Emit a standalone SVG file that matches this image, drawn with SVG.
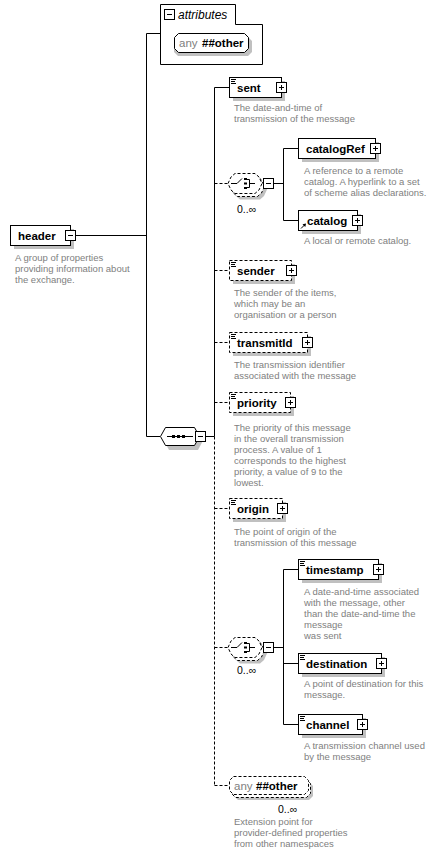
<svg xmlns="http://www.w3.org/2000/svg" xmlns:xlink="http://www.w3.org/1999/xlink" width="433" height="857" viewBox="0 0 433 857">
<style>
.box{fill:#fff;stroke:#000;stroke-width:1}
.opt{stroke-dasharray:3,2}
.sh{fill:#c0c0c0;stroke:none}
.ln{fill:none;stroke:#000;stroke-width:1}
.dl{stroke-dasharray:3,2}
.nm{font-family:"Liberation Sans",Arial,sans-serif;font-weight:bold;font-size:11.5px;fill:#000}
.ds{font-family:"Liberation Sans",Arial,sans-serif;font-size:9.5px;fill:#808080}
.oc{font-family:"Liberation Sans",Arial,sans-serif;font-size:10.5px;fill:#000}
.an{font-family:"Liberation Sans",Arial,sans-serif;font-size:11.5px;fill:#808080}
.at{font-family:"Liberation Sans",Arial,sans-serif;font-style:italic;font-size:12px;fill:#000}
</style>
<defs>
<g id="plus"><rect x="0.5" y="0.5" width="10" height="10" fill="#fff" stroke="#000"/><path d="M3,5.5H8M5.5,3V8" stroke="#000" fill="none"/></g>
<g id="minus"><rect x="0.5" y="0.5" width="10" height="10" fill="#fff" stroke="#000"/><path d="M3,5.5H8" stroke="#000" fill="none"/></g>
<path id="ti" d="M2,2.5h5M2,4.5h4M2,6.5h5" fill="none" stroke="#000"/>
<path id="chs" d="M0,10.5 L3,4 L7,0.5 L27,0.5 L31,4 L34,10.5 L31,17 L27,20.5 L7,20.5 L3,17 Z"/>
</defs>

<g id="connectors">
<path class="ln" d="M75,235.5H146.5M146.5,33.5V436.5M146.5,33.5H160M146.5,436.5H160"/>
<path class="ln" d="M205,436.5H214.5M214.5,87.5V436.5M214.5,87.5H229"/>
<path class="ln dl" d="M214.5,436.5V785.5M214.5,183.5H228M214.5,270.5H229M214.5,342.5H229M214.5,402.5H229M214.5,508.5H229M214.5,647.5H228M214.5,785.5H229"/>
<path class="ln" d="M273,183.5H283.5M283.5,148.5V220.5M283.5,148.5H298M283.5,220.5H298"/>
<path class="ln" d="M273,647.5H283.5M283.5,569.5V724.5M283.5,569.5H298M283.5,663.5H298M283.5,724.5H298"/>
</g>

<g id="attributes">
<path class="box" d="M160.5,4.5H235.5V24.5H262.5V64.5H160.5Z"/>
<use xlink:href="#minus" x="164" y="9"/>
<text class="at" x="178" y="19">attributes</text>
<g id="anyAttr">
<path class="sh" d="M178,37 H248 L252,41 V52 L248,56 H178 L174,52 V41 Z"/>
<path class="box" d="M178.5,33.5 H244.5 L248.5,37.5 V48.5 L244.5,52.5 H178.5 L174.5,48.5 V37.5 Z"/>
<text class="an" x="179" y="47">any</text>
<text class="nm" x="202" y="47">##other</text>
</g>
</g>

<g id="header" transform="translate(10,225)">
<rect class="sh" x="4" y="4" width="60" height="20"/>
<rect class="box" x="0.5" y="0.5" width="60" height="20"/>
<text class="nm" x="8" y="15">header</text>
<use xlink:href="#minus" x="55" y="5"/>
<text class="ds" x="5" y="36">A group of properties<tspan x="5" y="47">providing information about</tspan><tspan x="5" y="58">the exchange.</tspan></text>
</g>

<g id="sequence">
<path class="sh" d="M164,440.5 L169,431 L198,431 L203,440.5 L198,450 L169,450 Z"/>
<path class="box" d="M160.5,436.5 L165.5,427.5 L194.5,427.5 L199.5,436.5 L194.5,445.5 L165.5,445.5 Z"/>
<path class="ln" d="M167,436.5H193"/>
<rect x="172" y="435" width="3" height="3"/><rect x="177" y="435" width="3" height="3"/><rect x="182" y="435" width="3" height="3"/>
<use xlink:href="#minus" x="195" y="431"/>
</g>

<g id="sent" transform="translate(229,77)">
<rect class="sh" x="4" y="4" width="52" height="20"/>
<rect class="box" x="0.5" y="0.5" width="52" height="20"/>
<use xlink:href="#ti"/>
<text class="nm" x="8" y="15">sent</text>
<use xlink:href="#plus" x="47" y="5"/>
<text class="ds" x="5" y="34">The date-and-time of<tspan x="5" y="45">transmission of the message</tspan></text>
</g>

<g id="choice1" transform="translate(228,173)">
<use xlink:href="#chs" class="sh" x="5" y="6"/>
<use xlink:href="#chs" class="box opt" x="2.5" y="3"/>
<use xlink:href="#chs" class="box opt"/>
<path class="ln" d="M3,10.5H9L14,5.5"/>
<rect x="16" y="5" width="3" height="2"/><rect x="16" y="9.5" width="3" height="2"/><rect x="16" y="14" width="3" height="2"/>
<path class="ln" d="M19,6.5H21.5V14.5H19M21.5,10.5H27"/>
<use xlink:href="#minus" x="35" y="5"/>
<text class="oc" x="9" y="40">0..∞</text>
</g>

<g id="catalogRef" transform="translate(298,138)">
<rect class="sh" x="4" y="4" width="77" height="20"/>
<rect class="box" x="0.5" y="0.5" width="77" height="20"/>
<text class="nm" x="8" y="15">catalogRef</text>
<use xlink:href="#plus" x="72" y="5"/>
<text class="ds" x="6" y="36">A reference to a remote<tspan x="6" y="47">catalog. A hyperlink to a set</tspan><tspan x="6" y="58">of scheme alias declarations.</tspan></text>
</g>

<g id="catalog" transform="translate(298,210)">
<rect class="sh" x="4" y="4" width="59" height="20"/>
<rect class="box" x="0.5" y="0.5" width="59" height="20"/>
<path d="M3,18.5L7,14.5" stroke="#000" fill="none"/><path d="M8,13.5L4.5,14.2L7.3,17Z" fill="#000"/>
<text class="nm" x="9" y="15">catalog</text>
<use xlink:href="#plus" x="54" y="5"/>
<text class="ds" x="6" y="34">A local or remote catalog.</text>
</g>

<g id="sender" transform="translate(229,260)">
<rect class="sh" x="4" y="4" width="62" height="20"/>
<rect class="box opt" x="0.5" y="0.5" width="62" height="20"/>
<use xlink:href="#ti"/>
<text class="nm" x="8" y="15">sender</text>
<use xlink:href="#plus" x="57" y="5"/>
<text class="ds" x="5" y="36">The sender of the items,<tspan x="5" y="47">which may be an</tspan><tspan x="5" y="58">organisation or a person</tspan></text>
</g>

<g id="transmitId" transform="translate(229,332)">
<rect class="sh" x="4" y="4" width="78" height="20"/>
<rect class="box opt" x="0.5" y="0.5" width="78" height="20"/>
<use xlink:href="#ti"/>
<text class="nm" x="8" y="15">transmitId</text>
<use xlink:href="#plus" x="73" y="5"/>
<text class="ds" x="5" y="36">The transmission identifier<tspan x="5" y="47">associated with the message</tspan></text>
</g>

<g id="priority" transform="translate(229,392)">
<rect class="sh" x="4" y="4" width="61" height="20"/>
<rect class="box opt" x="0.5" y="0.5" width="61" height="20"/>
<use xlink:href="#ti"/>
<text class="nm" x="8" y="15">priority</text>
<use xlink:href="#plus" x="56" y="5"/>
<text class="ds" x="5" y="39">The priority of this message<tspan x="5" y="50">in the overall transmission</tspan><tspan x="5" y="61">process. A value of 1</tspan><tspan x="5" y="72">corresponds to the highest</tspan><tspan x="5" y="83">priority, a value of 9 to the</tspan><tspan x="5" y="94">lowest.</tspan></text>
</g>

<g id="origin" transform="translate(229,498)">
<rect class="sh" x="4" y="4" width="53" height="20"/>
<rect class="box opt" x="0.5" y="0.5" width="53" height="20"/>
<use xlink:href="#ti"/>
<text class="nm" x="8" y="15">origin</text>
<use xlink:href="#plus" x="48" y="5"/>
<text class="ds" x="5" y="37">The point of origin of the<tspan x="5" y="48">transmission of this message</tspan></text>
</g>

<g id="choice2" transform="translate(228,637)">
<use xlink:href="#chs" class="sh" x="5" y="6"/>
<use xlink:href="#chs" class="box opt" x="2.5" y="3"/>
<use xlink:href="#chs" class="box opt"/>
<path class="ln" d="M3,10.5H9L14,5.5"/>
<rect x="16" y="5" width="3" height="2"/><rect x="16" y="9.5" width="3" height="2"/><rect x="16" y="14" width="3" height="2"/>
<path class="ln" d="M19,6.5H21.5V14.5H19M21.5,10.5H27"/>
<use xlink:href="#minus" x="35" y="5"/>
<text class="oc" x="9" y="37">0..∞</text>
</g>

<g id="timestamp" transform="translate(298,559)">
<rect class="sh" x="4" y="4" width="80" height="20"/>
<rect class="box" x="0.5" y="0.5" width="80" height="20"/>
<use xlink:href="#ti"/>
<text class="nm" x="8" y="15">timestamp</text>
<use xlink:href="#plus" x="75" y="5"/>
<text class="ds" x="6" y="36">A date-and-time associated<tspan x="6" y="47">with the message, other</tspan><tspan x="6" y="58">than the date-and-time the</tspan><tspan x="6" y="69">message</tspan><tspan x="6" y="80">was sent</tspan></text>
</g>

<g id="destination" transform="translate(298,653)">
<rect class="sh" x="4" y="4" width="83" height="20"/>
<rect class="box" x="0.5" y="0.5" width="83" height="20"/>
<use xlink:href="#ti"/>
<text class="nm" x="8" y="15">destination</text>
<use xlink:href="#plus" x="78" y="5"/>
<text class="ds" x="6" y="34">A point of destination for this<tspan x="6" y="45">message.</tspan></text>
</g>

<g id="channel" transform="translate(298,714)">
<rect class="sh" x="4" y="4" width="64" height="20"/>
<rect class="box" x="0.5" y="0.5" width="64" height="20"/>
<use xlink:href="#ti"/>
<text class="nm" x="8" y="15">channel</text>
<use xlink:href="#plus" x="59" y="5"/>
<text class="ds" x="6" y="35">A transmission channel used<tspan x="6" y="46">by the message</tspan></text>
</g>

<g id="anyOther">
<path class="sh" d="M238,782 H309 L313,786 V796 L309,800 H238 L234,796 V786 Z"/>
<path class="box opt" d="M235.5,779.5 H306.5 L310.5,783.5 V793.5 L306.5,797.5 H235.5 L231.5,793.5 V783.5 Z"/>
<path class="box opt" d="M233.5,776.5 H304.5 L308.5,780.5 V790.5 L304.5,794.5 H233.5 L229.5,790.5 V780.5 Z"/>
<text class="an" x="234" y="790">any</text>
<text class="nm" x="256" y="790">##other</text>
<text class="oc" x="278" y="813">0..∞</text>
<text class="ds" x="234" y="825">Extension point for<tspan x="234" y="836">provider-defined properties</tspan><tspan x="234" y="847">from other namespaces</tspan></text>
</g>
</svg>
